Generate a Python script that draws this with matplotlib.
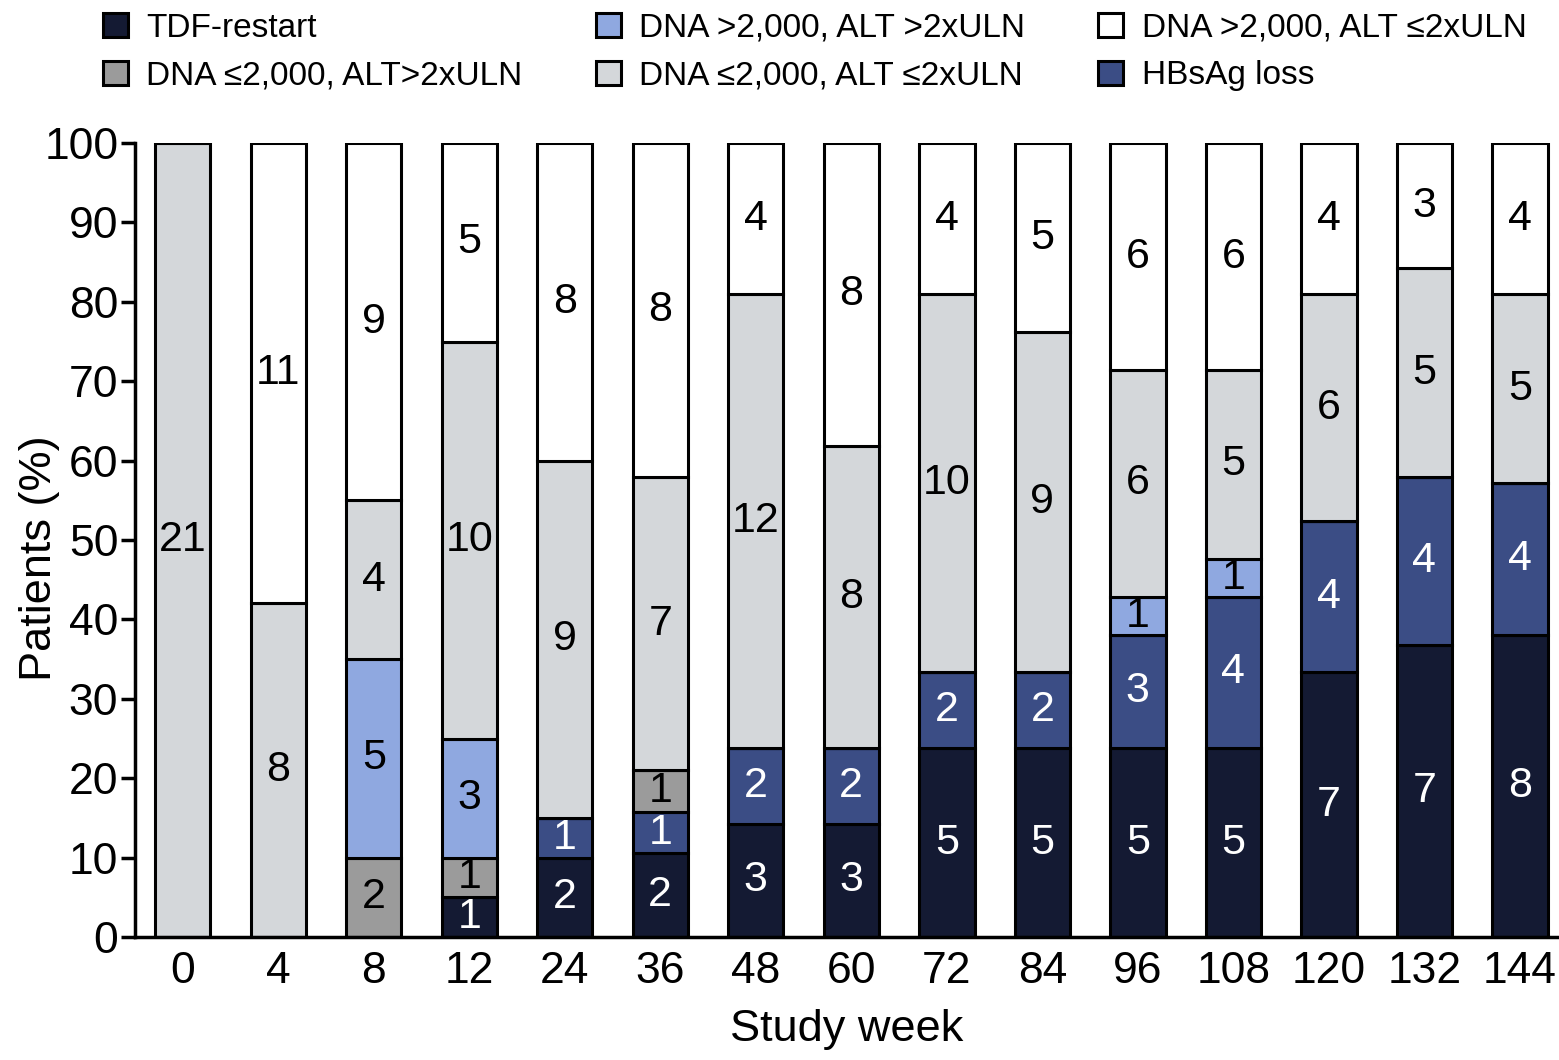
import numpy as np
import matplotlib.pyplot as plt
from matplotlib.patches import Patch

plt.rcParams['font.family'] = ['Liberation Sans', 'DejaVu Sans']

weeks = ['0', '4', '8', '12', '24', '36', '48', '60', '72', '84', '96', '108', '120', '132', '144']

# patient counts per category, stacked bottom to top
tdf_restart = [0, 0, 0, 1, 2, 2, 3, 3, 5, 5, 5, 5, 7, 7, 8]
hbsag_loss = [0, 0, 0, 0, 1, 1, 2, 2, 2, 2, 3, 4, 4, 4, 4]
low_dna_high_alt = [0, 0, 2, 1, 0, 1, 0, 0, 0, 0, 0, 0, 0, 0, 0]
high_dna_high_alt = [0, 0, 5, 3, 0, 0, 0, 0, 0, 0, 1, 1, 0, 0, 0]
low_dna_low_alt = [21, 8, 4, 10, 9, 7, 12, 8, 10, 9, 6, 5, 6, 5, 5]
high_dna_low_alt = [0, 11, 9, 5, 8, 8, 4, 8, 4, 5, 6, 6, 4, 3, 4]

series = [
    ('TDF-restart', tdf_restart, '#141a33', 'white'),
    ('HBsAg loss', hbsag_loss, '#3b4d85', 'white'),
    ('DNA \u22642,000, ALT>2xULN', low_dna_high_alt, '#9b9b9b', 'black'),
    ('DNA >2,000, ALT >2xULN', high_dna_high_alt, '#8fa8e0', 'black'),
    ('DNA \u22642,000, ALT \u22642xULN', low_dna_low_alt, '#d4d7da', 'black'),
    ('DNA >2,000, ALT \u22642xULN', high_dna_low_alt, 'white', 'black'),
]

counts = np.array([s[1] for s in series], dtype=float)
totals = counts.sum(axis=0)
pct = counts / totals * 100

fig = plt.figure(figsize=(15.59, 10.6), dpi=100)
ax = fig.add_axes([0.0866, 0.116, 0.9134, 0.749])

x = np.arange(len(weeks))
bottom = np.zeros(len(weeks))
for (name, vals, color, tcolor), p in zip(series, pct):
    ax.bar(x, p, 0.58, bottom=bottom, color=color, edgecolor='black', linewidth=2.2)
    for i, v in enumerate(vals):
        if v > 0:
            ax.text(x[i], bottom[i] + p[i] / 2, str(v), ha='center', va='center',
                    fontsize=31, color=tcolor)
    bottom += p

ax.set_xlim(-0.5, 14.41)
ax.set_ylim(0, 100)
ax.set_yticks(range(0, 101, 10))
ax.set_xticks(x)
ax.set_xticklabels(weeks)
ax.tick_params(axis='y', labelsize=32, length=10, width=2.5, pad=2)
ax.tick_params(axis='x', labelsize=32, length=0, pad=10)
for side in ['top', 'right']:
    ax.spines[side].set_visible(False)
for side in ['left', 'bottom']:
    ax.spines[side].set_linewidth(2.5)
ax.set_ylabel('Patients (%)', fontsize=32.5)
ax.yaxis.set_label_coords(-0.053, 0.477)
ax.set_xlabel('Study week', fontsize=32.5, labelpad=12)

# legend laid out in three columns above the axes
order = [0, 2, 3, 4, 5, 1]
handles = [Patch(facecolor=series[i][2], edgecolor='black', linewidth=2.2) for i in order]
labels = [series[i][0] for i in order]
fig.legend(handles, labels, ncol=3, loc='upper left', bbox_to_anchor=(0.066, 0.988),
           frameon=False, fontsize=24, handlelength=0.75, handleheight=0.75,
           handletextpad=0.55, columnspacing=2.2, labelspacing=0.5,
           borderpad=0, borderaxespad=0)

fig.savefig('out.png', dpi=100)
